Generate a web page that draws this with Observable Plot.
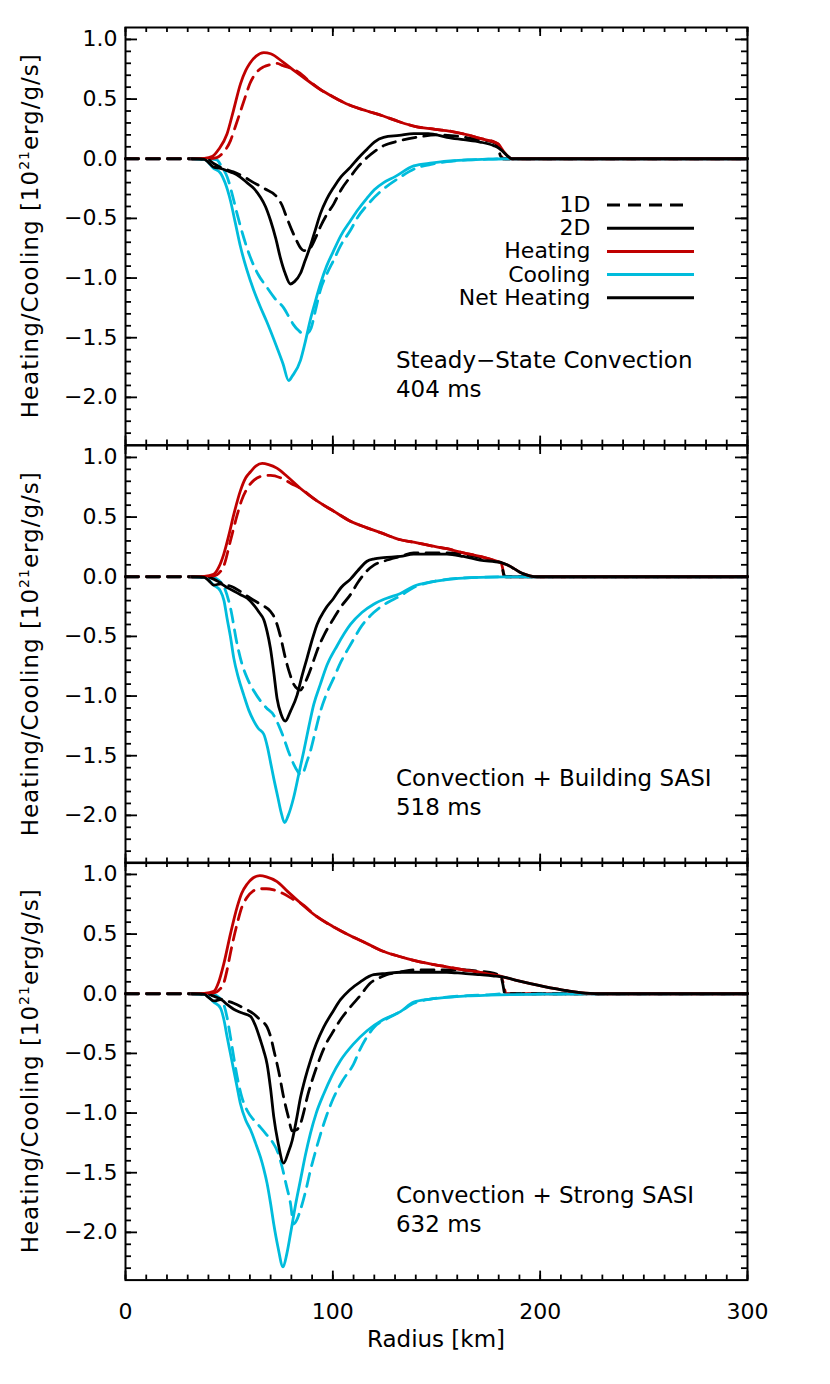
<!DOCTYPE html>
<html>
<head>
<meta charset="utf-8">
<script src="https://cdn.jsdelivr.net/npm/d3@7"></script>
<script src="https://cdn.jsdelivr.net/npm/@observablehq/plot@0.6"></script>
<style>
  body { margin: 0; background: #fff; }
  #wrap { position: relative; width: 830px; height: 1384px; font-family: "DejaVu Sans", sans-serif; }
  #wrap svg { position: absolute; left: 0; overflow: visible; }
</style>
</head>
<body>
<div id="wrap"></div>
<script>
// ---------------- data (radius [km], value [1e21 erg/g/s]) ----------------
const panelTitles = ["Steady\u2212State Convection", "Convection + Building SASI", "Convection + Strong SASI"];
const panelTimes = ["404 ms", "518 ms", "632 ms"];
const xTickValues = [0, 100, 200, 300];
const yTickValues = [1.0, 0.5, 0.0, -0.5, -1.0, -1.5, -2.0];
const legendLabels = ["1D", "2D", "Heating", "Cooling", "Net Heating"];

// Panel 1 : 404 ms
const p1Heat2D = [[32,0],[38,0.003],[42,0.02],[45,0.08],[49,0.21],[52,0.40],[55.5,0.63],[58,0.74],[60,0.80],[63,0.86],[66.7,0.89],[70,0.88],[76,0.81],[82,0.73],[87.5,0.66],[94,0.58],[100,0.52],[108,0.45],[116.5,0.40],[124,0.36],[132,0.31],[140,0.27],[148,0.25],[157,0.23],[165,0.20],[171,0.17],[177.6,0.14],[180,0.12],[182.4,0.06],[184.5,0.02],[186.4,0],[190,0],[300,0]];
const p1Cool2D = [[32,0],[38,-0.005],[42.5,-0.08],[45.8,-0.12],[48,-0.2],[50.6,-0.35],[53,-0.54],[55.5,-0.74],[58.5,-0.93],[61.8,-1.10],[65,-1.24],[68,-1.36],[73,-1.58],[76,-1.72],[78.7,-1.86],[80.5,-1.82],[84.4,-1.69],[86.5,-1.55],[89,-1.36],[91.5,-1.2],[94,-1.05],[97,-0.9],[100.4,-0.77],[104,-0.64],[108.5,-0.52],[112,-0.43],[116.5,-0.33],[120,-0.26],[124.5,-0.2],[130,-0.15],[139,-0.06],[148,-0.035],[155,-0.02],[165,-0.01],[175,-0.004],[185,0],[300,0]];
const p1Net2D = [[32,0],[38,-0.005],[40,-0.03],[42.5,-0.07],[45.8,-0.08],[49,-0.1],[52,-0.12],[55,-0.15],[58.6,-0.2],[62,-0.25],[65,-0.32],[67.5,-0.4],[70,-0.52],[72.5,-0.67],[74.7,-0.83],[77,-0.96],[79.5,-1.05],[81.5,-1.03],[84.4,-0.96],[86.5,-0.86],[89,-0.74],[91.5,-0.6],[94,-0.46],[97,-0.34],[100.4,-0.24],[104,-0.15],[108.5,-0.07],[112,0.0],[116.5,0.08],[120,0.14],[124.5,0.18],[132,0.195],[139,0.21],[146,0.21],[155,0.18],[163,0.16],[171,0.14],[177.6,0.11],[180,0.09],[182.4,0.055],[184.5,0.02],[186.4,0],[300,0]];
const p1Heat1D = [[0,0],[40,0],[44,0.01],[47,0.05],[50.6,0.15],[53,0.27],[55.5,0.40],[58,0.53],[60,0.63],[63,0.72],[66.6,0.77],[70,0.79],[73,0.80],[76,0.78],[79.5,0.76],[84,0.72],[88,0.66],[94,0.58],[100,0.52],[108,0.45],[116.5,0.40],[124,0.36],[132,0.31],[140,0.27],[148,0.25],[157,0.23],[165,0.20],[171,0.17],[178,0.14],[180,0.12],[181.5,0.02],[182,0],[300,0]];
const p1Cool1D = [[0,0],[40,0],[44,-0.01],[46.5,-0.07],[49,-0.15],[51.5,-0.3],[53.8,-0.46],[57,-0.66],[60.3,-0.83],[64,-0.97],[68.3,-1.08],[72,-1.17],[76.3,-1.25],[79,-1.33],[81,-1.39],[83.5,-1.44],[86,-1.47],[88,-1.46],[89.5,-1.42],[91.5,-1.28],[94,-1.1],[97,-0.97],[100.4,-0.85],[104,-0.72],[108.5,-0.6],[112,-0.49],[116.5,-0.39],[124,-0.26],[132,-0.16],[140,-0.08],[148,-0.045],[155,-0.025],[165,-0.01],[175,-0.004],[182,0],[300,0]];
const p1Net1D = [[0,0],[36,0],[40,-0.01],[42.5,-0.04],[47,-0.08],[52,-0.11],[57,-0.15],[61.8,-0.2],[67,-0.25],[73,-0.32],[75.5,-0.39],[77.7,-0.49],[80,-0.59],[82.6,-0.69],[84.5,-0.75],[86,-0.77],[88,-0.77],[89.5,-0.74],[91.5,-0.67],[94,-0.57],[97,-0.47],[100.4,-0.38],[104,-0.26],[108.5,-0.15],[112,-0.07],[116.5,0.01],[120,0.06],[124.5,0.11],[132,0.15],[140.7,0.18],[150,0.2],[160,0.19],[170,0.16],[177,0.14],[179,0.12],[181,0.02],[182,0],[300,0]];

// Panel 2 : 518 ms
const p2Heat2D = [[32,0],[38,0.003],[42.5,0.02],[45,0.08],[47.4,0.19],[50,0.36],[52.2,0.52],[55.4,0.72],[58,0.83],[60.3,0.88],[63,0.93],[65.9,0.95],[69,0.94],[73,0.91],[78,0.84],[84.4,0.74],[92,0.64],[100.4,0.55],[108,0.47],[116.5,0.41],[123,0.37],[132.6,0.31],[139,0.29],[147,0.26],[155,0.235],[163,0.20],[171,0.17],[180.8,0.12],[184,0.10],[187.2,0.07],[190,0.04],[192,0.024],[195,0.008],[198.5,0],[300,0]];
const p2Cool2D = [[32,0],[38,-0.005],[42.6,-0.07],[45.8,-0.12],[47.5,-0.2],[49,-0.35],[50.6,-0.5],[52.2,-0.68],[54.5,-0.85],[57,-0.99],[59.5,-1.12],[61.9,-1.21],[64,-1.27],[66.7,-1.32],[68.5,-1.43],[70,-1.56],[71.5,-1.69],[73.5,-1.85],[75,-1.97],[76.7,-2.06],[78.5,-2.0],[81.1,-1.85],[83.5,-1.66],[86,-1.46],[88.5,-1.25],[90.8,-1.07],[94,-0.9],[97.2,-0.74],[102,-0.58],[108.5,-0.40],[114,-0.3],[119.7,-0.23],[126,-0.18],[132.6,-0.14],[139,-0.08],[147,-0.045],[155,-0.024],[163,-0.012],[171,-0.005],[185,-0.001],[195,0],[300,0]];
const p2Net2D = [[32,0],[38,-0.005],[40,-0.03],[42.6,-0.07],[45.8,-0.06],[49,-0.09],[52.2,-0.12],[55.5,-0.15],[58.7,-0.18],[62,-0.24],[64.5,-0.3],[66.7,-0.36],[68.3,-0.46],[69.9,-0.60],[71.5,-0.8],[73.1,-1.02],[75,-1.15],[77.1,-1.21],[79.5,-1.13],[82.8,-0.99],[85,-0.84],[87.6,-0.68],[90,-0.53],[92.4,-0.40],[96,-0.28],[100.4,-0.18],[104,-0.09],[108.5,-0.02],[112,0.05],[116.5,0.13],[120,0.15],[124.5,0.16],[132.6,0.17],[139,0.19],[147,0.19],[155,0.19],[163,0.17],[171,0.14],[180.8,0.12],[184,0.10],[187.2,0.07],[190,0.04],[192,0.024],[195,0.008],[198.5,0],[300,0]];
const p2Heat1D = [[0,0],[40,0],[42.5,0.005],[45,0.03],[47.4,0.09],[50.6,0.30],[53.9,0.52],[56,0.64],[58.7,0.74],[62,0.81],[65.1,0.84],[70,0.85],[74.7,0.83],[80,0.78],[84.4,0.74],[92,0.64],[100.4,0.55],[108,0.47],[116.5,0.41],[123,0.37],[132.6,0.31],[139,0.29],[147,0.26],[155,0.235],[163,0.20],[171,0.17],[178,0.135],[181,0.12],[182,0.06],[182.5,0],[300,0]];
const p2Cool1D = [[0,0],[40,0],[42.5,-0.005],[45,-0.03],[47.4,-0.08],[50.6,-0.26],[53.9,-0.57],[56,-0.72],[58.7,-0.85],[62,-0.96],[65.1,-1.04],[68,-1.10],[71.5,-1.16],[74,-1.25],[76.3,-1.35],[78.5,-1.46],[81.1,-1.57],[83,-1.63],[84.4,-1.66],[86,-1.63],[87.5,-1.55],[89.2,-1.46],[91.5,-1.3],[94,-1.13],[97,-0.98],[100.4,-0.85],[104,-0.71],[108.5,-0.57],[114,-0.41],[119.7,-0.30],[126,-0.22],[132.6,-0.16],[139,-0.09],[147,-0.045],[155,-0.022],[163,-0.01],[171,-0.004],[183,0],[300,0]];
const p2Net1D = [[0,0],[38,0],[40,-0.005],[42.5,-0.02],[47,-0.06],[52.2,-0.09],[56,-0.13],[60.3,-0.18],[65,-0.23],[69.9,-0.29],[71.5,-0.33],[73.1,-0.40],[75,-0.52],[77.1,-0.68],[79,-0.8],[81.1,-0.90],[83,-0.94],[84.4,-0.95],[86,-0.91],[87.6,-0.85],[90,-0.74],[92.4,-0.62],[96,-0.48],[100.4,-0.35],[104,-0.25],[108.5,-0.15],[112,-0.05],[116.5,0.05],[120,0.10],[124.5,0.13],[132.6,0.17],[139,0.2],[147,0.2],[155,0.2],[163,0.19],[171,0.16],[178,0.13],[181,0.12],[182.5,0.02],[183,0],[300,0]];

// Panel 3 : 632 ms
const p3Heat2D = [[32,0],[38,0.003],[42.6,0.02],[45,0.1],[47.4,0.25],[50.6,0.50],[53.9,0.73],[56,0.84],[58.7,0.92],[61.5,0.97],[64.8,0.99],[68,0.98],[73.1,0.94],[78,0.86],[84.4,0.76],[92,0.65],[100.4,0.56],[108,0.49],[116.5,0.42],[123,0.365],[132.6,0.31],[139,0.28],[147,0.25],[155,0.225],[163,0.20],[171,0.18],[177,0.16],[182.4,0.14],[188,0.115],[195.3,0.085],[202,0.06],[208,0.04],[214,0.022],[219.4,0.01],[224,0.003],[228,0],[300,0]];
const p3Cool2D = [[32,0],[38,-0.005],[42.6,-0.07],[45.8,-0.12],[47.5,-0.22],[49,-0.36],[50.6,-0.5],[52.2,-0.64],[53.8,-0.78],[55.4,-0.92],[58,-1.06],[60.3,-1.14],[62.7,-1.25],[65.1,-1.37],[66.7,-1.47],[68.3,-1.59],[70,-1.76],[71.5,-1.93],[73.5,-2.12],[76,-2.29],[77.8,-2.18],[79.6,-2.01],[82,-1.77],[84.4,-1.56],[86.8,-1.35],[89.2,-1.17],[92,-1.0],[95.6,-0.84],[99.5,-0.69],[103.7,-0.56],[110,-0.42],[116.5,-0.31],[124,-0.22],[132.6,-0.15],[139,-0.07],[147,-0.045],[155,-0.03],[165,-0.018],[175,-0.012],[187,-0.007],[200,-0.004],[215,-0.002],[228,0],[300,0]];
const p3Net2D = [[32,0],[38,-0.005],[40,-0.03],[42.6,-0.06],[45.8,-0.05],[49,-0.09],[52.2,-0.13],[56,-0.16],[60.3,-0.19],[62.5,-0.26],[65.1,-0.39],[66.7,-0.48],[68.3,-0.59],[70,-0.8],[71.5,-1.03],[73.5,-1.24],[76.3,-1.42],[78.5,-1.33],[80.4,-1.23],[82.5,-1.05],[84.4,-0.87],[86.8,-0.7],[89.2,-0.56],[92,-0.42],[95.6,-0.28],[100,-0.15],[103.7,-0.05],[108,0.03],[113.3,0.10],[119.7,0.16],[126,0.17],[132.6,0.18],[139,0.18],[147,0.18],[155,0.18],[163,0.17],[171,0.16],[177,0.15],[182.4,0.14],[188,0.115],[195.3,0.085],[202,0.06],[208,0.04],[214,0.022],[219.4,0.01],[224,0.003],[228,0],[300,0]];
const p3Heat1D = [[0,0],[40,0],[42.5,0.005],[45,0.03],[47.4,0.09],[49,0.2],[50.6,0.34],[53.9,0.59],[56,0.72],[58.7,0.81],[61.5,0.86],[64.3,0.88],[68,0.88],[71.5,0.87],[76,0.84],[81,0.79],[84.4,0.76],[92,0.65],[100.4,0.56],[108,0.49],[116.5,0.42],[123,0.365],[132.6,0.31],[139,0.28],[147,0.25],[155,0.225],[163,0.20],[171,0.18],[177,0.16],[181,0.145],[182.5,0.07],[183.5,0],[300,0]];
const p3Cool1D = [[0,0],[40,0],[42.5,-0.005],[45,-0.03],[47.4,-0.09],[49,-0.2],[50.6,-0.36],[53.9,-0.70],[56,-0.86],[58.7,-0.98],[62,-1.06],[65.1,-1.12],[68,-1.18],[71.5,-1.26],[73.5,-1.33],[75.5,-1.45],[77.5,-1.6],[79.6,-1.76],[81.1,-1.93],[82.5,-1.9],[84.4,-1.81],[86.8,-1.66],[89.2,-1.48],[91.5,-1.33],[94,-1.18],[97,-1.02],[100.4,-0.87],[105,-0.72],[110,-0.59],[113,-0.47],[116.5,-0.36],[120,-0.28],[126,-0.21],[132.6,-0.15],[139,-0.08],[147,-0.045],[155,-0.028],[165,-0.016],[175,-0.009],[183,0],[300,0]];
const p3Net1D = [[0,0],[38,0],[40,-0.005],[42.5,-0.02],[47,-0.05],[52.2,-0.08],[57,-0.12],[61.9,-0.17],[65,-0.22],[68.3,-0.28],[70,-0.36],[71.5,-0.47],[74,-0.66],[76.3,-0.87],[78.5,-1.03],[80.4,-1.15],[82.5,-1.14],[84.4,-1.09],[86,-0.99],[87.6,-0.87],[90.5,-0.70],[94,-0.53],[97,-0.41],[100.4,-0.31],[104,-0.21],[108.5,-0.11],[113,-0.02],[118.1,0.09],[122,0.13],[126,0.16],[132,0.18],[140,0.2],[150,0.2],[160,0.2],[170,0.19],[178,0.17],[181,0.15],[182,0.08],[183,0],[300,0]];

// ---------------- layout & style ----------------
const RED = "#c00000", CYAN = "#00bcdc", BLACK = "#000";
const W = 830, mL = 125, mR = 83, innerW = W - mL - mR;
const innerH = 417.6;
const LW = 2.8, DASH = "13,8";
const xMinor = d3.range(0, 301, 10);
const yMinor = d3.range(-23, 11).map(i => i / 10);
const fmtY = d => (d < 0 ? "\u2212" : "") + Math.abs(d).toFixed(1);

const panels = [
  {heat2: p1Heat2D, cool2: p1Cool2D, net2: p1Net2D, heat1: p1Heat1D, cool1: p1Cool1D, net1: p1Net1D, top: 0, mt: 27, mb: 0},
  {heat2: p2Heat2D, cool2: p2Cool2D, net2: p2Net2D, heat1: p2Heat1D, cool1: p2Cool1D, net1: p2Net1D, top: 27 + innerH, mt: 0, mb: 0},
  {heat2: p3Heat2D, cool2: p3Cool2D, net2: p3Net2D, heat1: p3Heat1D, cool1: p3Cool1D, net1: p3Net1D, top: 27 + 2 * innerH, mt: 0, mb: 1384 - (27 + 3 * innerH)}
];

const wrap = document.getElementById("wrap");

panels.forEach((p, i) => {
  const last = i === panels.length - 1;
  const lineOpts = {curve: "monotone-x", strokeWidth: LW};
  const marks = [
    Plot.line(p.cool1, {...lineOpts, stroke: CYAN, strokeDasharray: DASH}),
    Plot.line(p.heat1, {...lineOpts, stroke: RED, strokeDasharray: DASH}),
    Plot.line(p.net1, {...lineOpts, stroke: BLACK, strokeDasharray: DASH}),
    Plot.line(p.cool2, {...lineOpts, stroke: CYAN}),
    Plot.line(p.heat2, {...lineOpts, stroke: RED}),
    Plot.line(p.net2, {...lineOpts, stroke: BLACK}),
    // inward ticks, all four sides
    Plot.tickX(xMinor, {x: d => d, insetTop: innerH - 5, strokeWidth: 1.8}),
    Plot.tickX(xTickValues, {x: d => d, insetTop: innerH - 9, strokeWidth: 1.8}),
    Plot.tickX(xMinor, {x: d => d, insetBottom: innerH - 5, strokeWidth: 1.8}),
    Plot.tickX(xTickValues, {x: d => d, insetBottom: innerH - 9, strokeWidth: 1.8}),
    Plot.tickY(yMinor, {y: d => d, insetRight: innerW - 6, strokeWidth: 1.8}),
    Plot.tickY(yTickValues, {y: d => d, insetRight: innerW - 12, strokeWidth: 1.8}),
    Plot.tickY(yMinor, {y: d => d, insetLeft: innerW - 6, strokeWidth: 1.8}),
    Plot.tickY(yTickValues, {y: d => d, insetLeft: innerW - 12, strokeWidth: 1.8}),
    Plot.axisY(yTickValues, {tickSize: 0, tickPadding: 8, tickFormat: fmtY, fontSize: 22, label: null}),
    last ? Plot.axisX(xTickValues, {tickSize: 0, tickPadding: 23, tickFormat: d => String(d), fontSize: 22, label: null}) : null,
    Plot.frame({stroke: BLACK, strokeWidth: 2})
  ];
  const svgEl = Plot.plot({
    width: W,
    height: p.mt + innerH + p.mb,
    marginLeft: mL, marginRight: mR, marginTop: p.mt, marginBottom: p.mb,
    x: {domain: [0, 300], ...(last ? {} : {axis: null}), label: null},
    y: {domain: [-2.4, 1.1], label: null},
    style: {fontFamily: "DejaVu Sans", fontSize: "22px", color: "black", background: "transparent", overflow: "visible"},
    marks
  });
  svgEl.style.top = p.top + "px";
  wrap.appendChild(svgEl);
  const svg = d3.select(svgEl);

  // y-axis title with superscript
  const yt = svg.append("text")
    .attr("transform", `translate(38,${p.mt + innerH / 2}) rotate(-90)`)
    .attr("text-anchor", "middle").attr("fill", "black")
    .style("font-size", "23px").style("letter-spacing", "1px");
  yt.append("tspan").text("Heating/Cooling [10");
  yt.append("tspan").attr("dy", -9).style("font-size", "14px").text("21");
  yt.append("tspan").attr("dy", 9).text("erg/g/s]");

  // panel annotation
  const bottom = p.mt + innerH;
  svg.append("text").attr("x", 396).attr("y", bottom - 76.7).attr("fill", "black")
    .attr("text-anchor", "start").style("font-size", "23px").text(panelTitles[i]);
  svg.append("text").attr("x", 396).attr("y", bottom - 47.7).attr("fill", "black")
    .attr("text-anchor", "start").style("font-size", "23px").text(panelTimes[i]);

  if (last) {
    svg.append("text").attr("x", mL + innerW / 2).attr("y", bottom + 67)
      .attr("text-anchor", "middle").attr("fill", "black")
      .style("font-size", "23px").text("Radius [km]");
  }

  if (i === 0) {
    const styles = [
      {stroke: BLACK, dash: DASH}, {stroke: BLACK, dash: null},
      {stroke: RED, dash: null}, {stroke: CYAN, dash: null}, {stroke: BLACK, dash: null}
    ];
    const g = svg.append("g");
    legendLabels.forEach((lab, k) => {
      const cy = 205 + k * 23.2;
      g.append("text").attr("x", 590.5).attr("y", cy + 7).attr("text-anchor", "end")
        .attr("fill", "black").style("font-size", "22px").text(lab);
      g.append("line").attr("x1", 607).attr("x2", styles[k].dash ? 686 : 694)
        .attr("y1", cy).attr("y2", cy)
        .attr("stroke", styles[k].stroke).attr("stroke-width", 3)
        .attr("stroke-dasharray", styles[k].dash);
    });
  }
});
</script>
</body>
</html>
